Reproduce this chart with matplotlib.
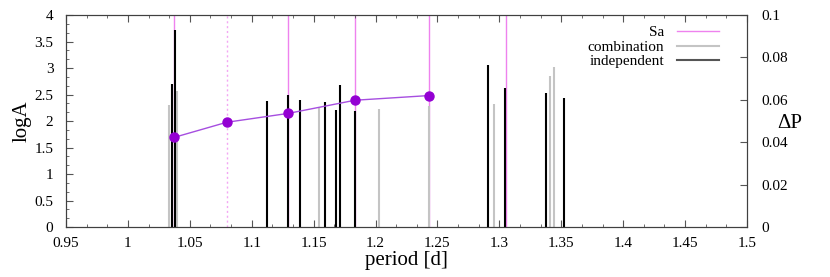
import matplotlib.pyplot as plt
from matplotlib.ticker import AutoMinorLocator, MultipleLocator
from matplotlib.lines import Line2D

plt.rcParams['font.family'] = ['Liberation Serif', 'DejaVu Serif']

# independent modes: period [d], logA
indep_period = [1.0354, 1.0378, 1.1126, 1.1296, 1.1390, 1.1592, 1.1681, 1.1716,
                1.1834, 1.2911, 1.3049, 1.3377, 1.3520]
indep_loga = [2.69, 3.72, 2.38, 2.50, 2.40, 2.35, 2.21, 2.67,
              2.19, 3.05, 2.62, 2.52, 2.43]

# combination modes
comb_period = [1.0334, 1.0397, 1.1546, 1.2031, 1.2430, 1.2957, 1.3410, 1.3442]
comb_loga = [2.30, 2.57, 2.24, 2.23, 2.28, 2.32, 2.85, 3.01]

# Sa sequence periods and period spacing
sa_period = [1.0375, 1.0798, 1.1296, 1.1834, 1.2430, 1.3052]
sa_dotted = [False, True, False, False, False, False]
dp_period = [1.0375, 1.0798, 1.1296, 1.1834, 1.2430]
dp_values = [0.0423, 0.0494, 0.0536, 0.0598, 0.0620]

fig = plt.figure(figsize=(8.3, 2.77), dpi=100)
ax = fig.add_axes([0.0795, 0.1805, 0.8205, 0.7653])

# Sa lines behind the bars
for p, dotted in zip(sa_period, sa_dotted):
    ax.axvline(p, color='violet', lw=1, ls=(0, (1.5, 2)) if dotted else '-',
               alpha=0.7 if dotted else 1, zorder=1)

ax.vlines(comb_period, 0, comb_loga, color='#c4c4c4', lw=1.5, zorder=2)
ax.vlines(indep_period, 0, indep_loga, color='black', lw=1.5, zorder=3)

ax.set_xlim(0.95, 1.5)
ax.set_ylim(0, 4)
ax.xaxis.set_major_locator(MultipleLocator(0.05))
ax.xaxis.set_minor_locator(AutoMinorLocator(3))
ax.yaxis.set_major_locator(MultipleLocator(0.5))
ax.yaxis.set_minor_locator(AutoMinorLocator(3))
ax.xaxis.set_major_formatter(plt.FuncFormatter(lambda v, _: f'{v:g}'))
ax.yaxis.set_major_formatter(plt.FuncFormatter(lambda v, _: f'{v:g}'))
ax.tick_params(which='both', direction='in', top=True, right=False, labelsize=11, color='#555555')
ax.tick_params(which='major', length=5)
ax.tick_params(which='minor', length=2.5)
ax.tick_params(axis='x', pad=7)
ax.tick_params(axis='y', pad=9)
ax.set_xlabel('period [d]', fontsize=15, labelpad=1)
ax.set_ylabel('logA', fontsize=15)
ax.yaxis.set_label_coords(-0.05, 0.5)

ax2 = ax.twinx()
ax2.plot(dp_period, dp_values, color='#a64ee0', lw=1, zorder=4)
ax2.plot(dp_period, dp_values, 'o', color='#9400d3', ms=6.5, zorder=5)
ax2.set_ylim(0, 0.1)
ax2.yaxis.set_major_locator(MultipleLocator(0.02))
ax2.yaxis.set_major_formatter(plt.FuncFormatter(lambda v, _: f'{v:g}'))
ax2.tick_params(direction='in', labelsize=11, length=5, pad=10, color='#555555')
ax2.set_ylabel('ΔP', fontsize=15, rotation=0, va='center', ha='center')
ax2.yaxis.set_label_coords(1.063, 0.49)

for a in (ax, ax2):
    for s in a.spines.values():
        s.set_color('#404040')

handles = [Line2D([], [], color='violet', lw=1),
           Line2D([], [], color='#c4c4c4', lw=1.5),
           Line2D([], [], color='#555555', lw=1.5)]
ax2.legend(handles, ['Sa', 'combination', 'independent'], loc='upper right',
           bbox_to_anchor=(0.975, 1.0), markerfirst=False, frameon=False, fontsize=11,
           handlelength=2.8, labelspacing=0.05, handletextpad=0.8, borderaxespad=0.3)

fig.savefig('out.png')
